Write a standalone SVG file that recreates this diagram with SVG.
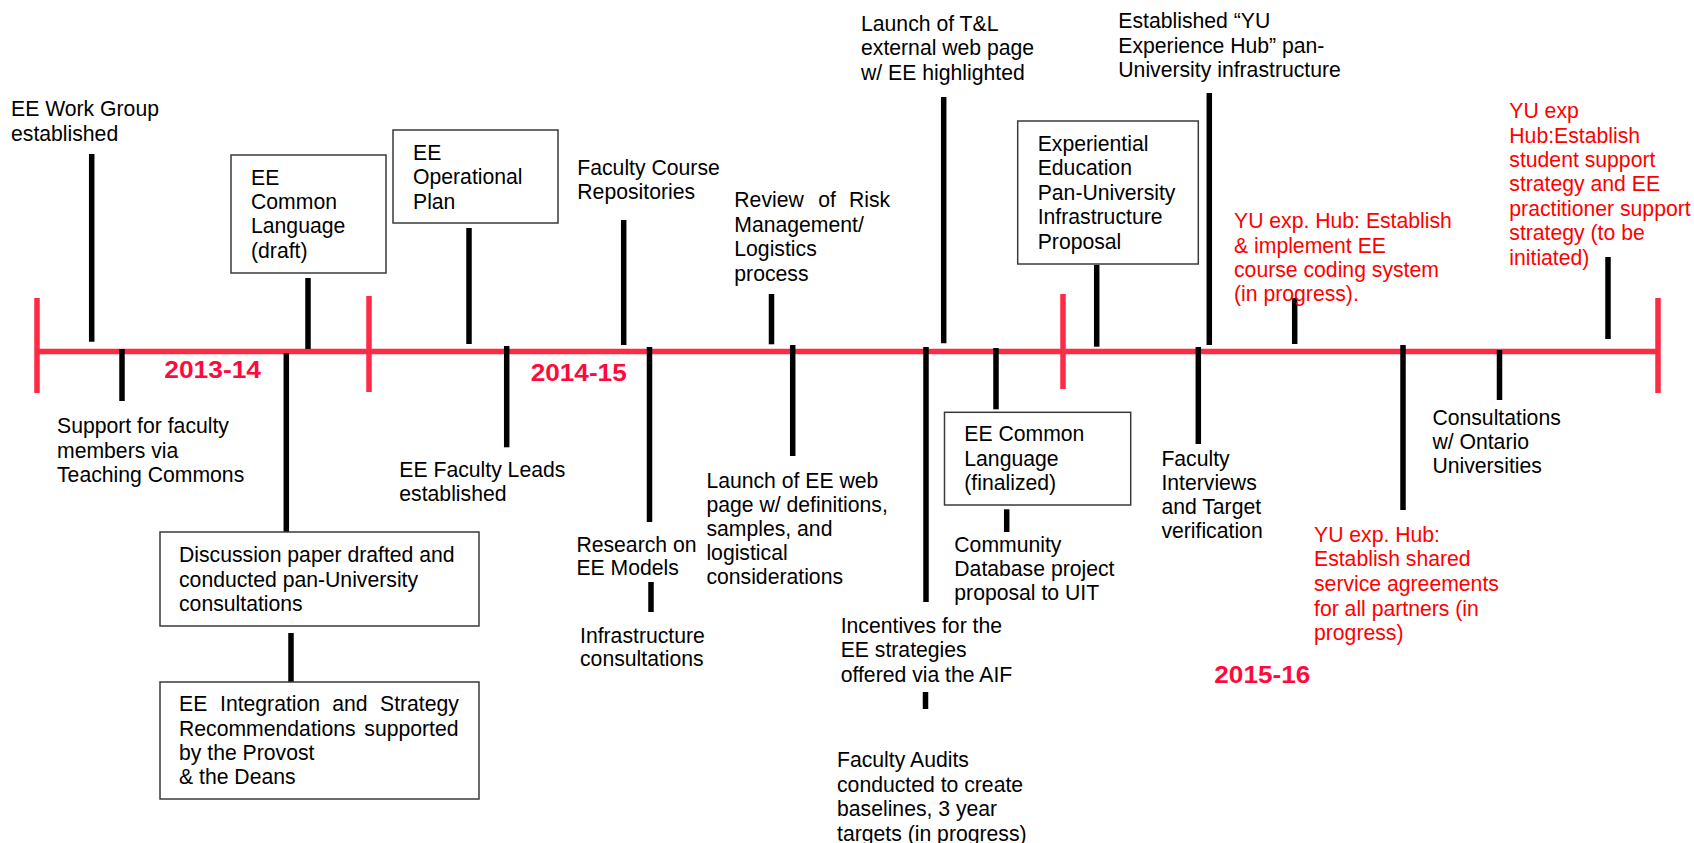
<svg xmlns="http://www.w3.org/2000/svg" width="1694" height="843" viewBox="0 0 1694 843">
  <style>
    .t { font-family: "Liberation Sans", Arial, sans-serif; font-size: 21.2px; fill: #000; }
    .r { fill: #ff0000; }
    .yr { font-family: "Liberation Sans", Arial, sans-serif; font-weight: bold; font-size: 24px; fill: #ff0a3c; }
    .box { fill: #fff; stroke: #3a3a3a; stroke-width: 1.5; }
    .axis { stroke: #ff2b45; stroke-width: 5.5; fill: none; }
    .tick { stroke: #000; stroke-width: 5.5; fill: none; }
  </style>
  <rect width="1694" height="843" fill="#fff"/>

  <!-- timeline axis with year dividers -->
  <g id="timeline">
    <path class="axis" d="M37 351.5 H1658"/>
    <path class="axis" d="M37 298 V393 M369 296 V392 M1063 294 V389 M1658 298 V393"/>
    <text class="yr" x="164.3" y="377.7" textLength="96.7" lengthAdjust="spacingAndGlyphs">2013-14</text>
    <text class="yr" x="530.7" y="380.7" textLength="96" lengthAdjust="spacingAndGlyphs">2014-15</text>
    <text class="yr" x="1214.3" y="683.3" textLength="96" lengthAdjust="spacingAndGlyphs">2015-16</text>
  </g>

  <!-- milestone ticks linking events to the axis -->
  <g id="connectors">
    <path class="tick" d="M91.7 154 V341.7"/>
    <path class="tick" d="M122 349 V401"/>
    <path class="tick" d="M286.3 353 V537"/>
    <path class="tick" d="M308 278 V349"/>
    <path class="tick" d="M291 633 V683"/>
    <path class="tick" d="M469 228 V344"/>
    <path class="tick" d="M506.7 346 V447.3"/>
    <path class="tick" d="M623.7 220 V345"/>
    <path class="tick" d="M649.5 347 V522"/>
    <path class="tick" d="M651 582 V612"/>
    <path class="tick" d="M771.5 294 V344.3"/>
    <path class="tick" d="M792.7 345 V456"/>
    <path class="tick" d="M943.7 97 V343.3"/>
    <path class="tick" d="M926 347 V602"/>
    <path class="tick" d="M925.5 692 V709"/>
    <path class="tick" d="M996 348 V409.3"/>
    <path class="tick" d="M1006.7 509.3 V532"/>
    <path class="tick" d="M1096.7 265 V346.7"/>
    <path class="tick" d="M1198.3 347 V444"/>
    <path class="tick" d="M1209.3 93 V345"/>
    <path class="tick" d="M1294.7 298 V344"/>
    <path class="tick" d="M1403 345 V510"/>
    <path class="tick" d="M1499.5 350 V400"/>
    <path class="tick" d="M1608 257 V339"/>
  </g>

  <g id="work-group">
    <text class="t" x="11" y="116">EE Work Group</text>
    <text class="t" x="11" y="140.7">established</text>
  </g>

  <g id="support-faculty">
    <text class="t" x="57" y="433.3">Support for faculty</text>
    <text class="t" x="57" y="457.7">members via</text>
    <text class="t" x="57" y="481.7">Teaching Commons</text>
  </g>

  <g id="common-language-draft">
    <rect class="box" x="231" y="155" width="155" height="118"/>
    <text class="t" x="251" y="184.7">EE</text>
    <text class="t" x="251" y="209">Common</text>
    <text class="t" x="251" y="233.3">Language</text>
    <text class="t" x="251" y="257.5">(draft)</text>
  </g>

  <g id="discussion-paper">
    <rect class="box" x="160" y="532" width="319" height="94"/>
    <text class="t" x="179" y="561.7">Discussion paper drafted and</text>
    <text class="t" x="179" y="586.7">conducted pan-University</text>
    <text class="t" x="179" y="610.7">consultations</text>
  </g>

  <g id="integration-strategy">
    <rect class="box" x="160" y="682" width="319" height="117"/>
    <text class="t" y="711"><tspan x="179">EE</tspan><tspan x="220">Integration</tspan><tspan x="332.3">and</tspan><tspan x="380">Strategy</tspan></text>
    <text class="t" y="735.7"><tspan x="179">Recommendations</tspan><tspan x="364.3">supported</tspan></text>
    <text class="t" x="179" y="759.7">by the Provost</text>
    <text class="t" x="179" y="784.3">&amp; the Deans</text>
  </g>

  <g id="operational-plan">
    <rect class="box" x="393" y="130" width="165" height="93"/>
    <text class="t" x="413" y="160">EE</text>
    <text class="t" x="413" y="184.3">Operational</text>
    <text class="t" x="413" y="209">Plan</text>
  </g>

  <g id="faculty-leads">
    <text class="t" x="399.3" y="476.7">EE Faculty Leads</text>
    <text class="t" x="399.3" y="500.7">established</text>
  </g>

  <g id="course-repositories">
    <text class="t" x="577.3" y="175">Faculty Course</text>
    <text class="t" x="577.3" y="199.3">Repositories</text>
  </g>

  <g id="research-models">
    <text class="t" x="576.4" y="551.7">Research on</text>
    <text class="t" x="576.4" y="575">EE Models</text>
  </g>

  <g id="infrastructure-consultations">
    <text class="t" x="580" y="642.7">Infrastructure</text>
    <text class="t" x="580" y="666">consultations</text>
  </g>

  <g id="risk-review">
    <text class="t" y="207.3"><tspan x="734.3">Review</tspan><tspan x="818.3">of</tspan><tspan x="849">Risk</tspan></text>
    <text class="t" x="734.3" y="231.8">Management/</text>
    <text class="t" x="734.3" y="256.3">Logistics</text>
    <text class="t" x="734.3" y="280.8">process</text>
  </g>

  <g id="ee-web-page">
    <text class="t" x="706.4" y="488.3">Launch of EE web</text>
    <text class="t" x="706.4" y="512.3">page w/ definitions,</text>
    <text class="t" x="706.4" y="536.3">samples, and</text>
    <text class="t" x="706.4" y="560.3">logistical</text>
    <text class="t" x="706.4" y="584.3">considerations</text>
  </g>

  <g id="tl-web-page">
    <text class="t" x="861" y="30.7">Launch of T&amp;L</text>
    <text class="t" x="861" y="55.2">external web page</text>
    <text class="t" x="861" y="79.7">w/ EE highlighted</text>
  </g>

  <g id="incentives-aif">
    <text class="t" x="840.7" y="633.3">Incentives for the</text>
    <text class="t" x="840.7" y="657.3">EE strategies</text>
    <text class="t" x="840.7" y="681.7">offered via the AIF</text>
  </g>

  <g id="faculty-audits">
    <text class="t" x="837" y="767.3">Faculty Audits</text>
    <text class="t" x="837" y="791.7">conducted to create</text>
    <text class="t" x="837" y="816.2">baselines, 3 year</text>
    <text class="t" x="837" y="840.7">targets (in progress)</text>
  </g>

  <g id="common-language-final">
    <rect class="box" x="944.5" y="412.3" width="186.2" height="92.7"/>
    <text class="t" x="964.3" y="441">EE Common</text>
    <text class="t" x="964.3" y="465.5">Language</text>
    <text class="t" x="964.3" y="490">(finalized)</text>
  </g>

  <g id="community-database">
    <text class="t" x="954.3" y="551.7">Community</text>
    <text class="t" x="954.3" y="575.5">Database project</text>
    <text class="t" x="954.3" y="599.5">proposal to UIT</text>
  </g>

  <g id="infrastructure-proposal">
    <rect class="box" x="1017.7" y="121" width="180.6" height="143"/>
    <text class="t" x="1037.7" y="150.7">Experiential</text>
    <text class="t" x="1037.7" y="175.2">Education</text>
    <text class="t" x="1037.7" y="199.8">Pan-University</text>
    <text class="t" x="1037.7" y="224.3">Infrastructure</text>
    <text class="t" x="1037.7" y="248.9">Proposal</text>
  </g>

  <g id="experience-hub">
    <text class="t" x="1118.3" y="28.3">Established “YU</text>
    <text class="t" x="1118.3" y="52.5">Experience Hub” pan-</text>
    <text class="t" x="1118.3" y="76.7">University infrastructure</text>
  </g>

  <g id="faculty-interviews">
    <text class="t" x="1161.4" y="465.7">Faculty</text>
    <text class="t" x="1161.4" y="490">Interviews</text>
    <text class="t" x="1161.4" y="514">and Target</text>
    <text class="t" x="1161.4" y="538">verification</text>
  </g>

  <g id="course-coding">
    <text class="t r" x="1234" y="228.3">YU exp. Hub: Establish</text>
    <text class="t r" x="1234" y="252.5">&amp; implement EE</text>
    <text class="t r" x="1234" y="276.7">course coding system</text>
    <text class="t r" x="1234" y="301">(in progress).</text>
  </g>

  <g id="shared-service">
    <text class="t r" x="1314" y="541.7">YU exp. Hub:</text>
    <text class="t r" x="1314" y="566.4">Establish shared</text>
    <text class="t r" x="1314" y="591">service agreements</text>
    <text class="t r" x="1314" y="615.6">for all partners (in</text>
    <text class="t r" x="1314" y="640.2">progress)</text>
  </g>

  <g id="ontario-consultations">
    <text class="t" x="1432.4" y="425">Consultations</text>
    <text class="t" x="1432.4" y="449.3">w/ Ontario</text>
    <text class="t" x="1432.4" y="473.3">Universities</text>
  </g>

  <g id="support-strategy">
    <text class="t r" x="1509.3" y="118.3">YU exp</text>
    <text class="t r" x="1509.3" y="142.7">Hub:Establish</text>
    <text class="t r" x="1509.3" y="167">student support</text>
    <text class="t r" x="1509.3" y="191.3">strategy and EE</text>
    <text class="t r" x="1509.3" y="215.7">practitioner support</text>
    <text class="t r" x="1509.3" y="240.1">strategy (to be</text>
    <text class="t r" x="1509.3" y="264.5">initiated)</text>
  </g>
</svg>
